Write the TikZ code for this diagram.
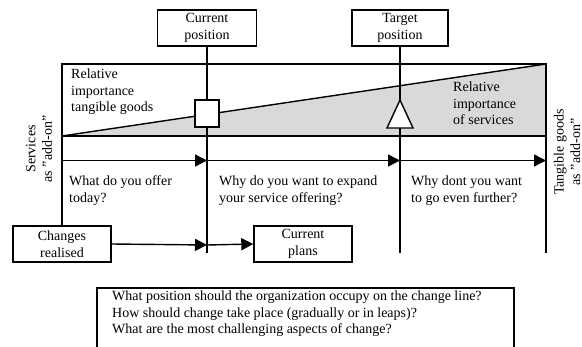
\documentclass[tikz,border=0pt]{standalone}
\usepackage{fontspec}
\setmainfont{Liberation Serif}
\usetikzlibrary{arrows.meta}
\begin{document}
\begin{tikzpicture}[x=1pt,y=-1pt,
  every node/.style={font=\fontsize{14}{16.5}\selectfont},
  ln/.style={line width=1.4pt},
  box/.style={draw,line width=1.4pt,fill=white,align=center,inner sep=0pt},
  arr/.style={line width=1.4pt,-{Triangle[length=12pt,width=12pt]}},
  txt/.style={anchor=west,align=left,inner sep=0pt}]
\useasboundingbox (0,0) rectangle (582,347);
\clip (0,0) rectangle (582,347);
% shading
\fill[gray!30] (62,136) -- (546,64) -- (546,136) -- cycle;
% frame coordinates
\coordinate (tl) at (62,64);
\coordinate (tr) at (546,64);
\coordinate (ml) at (62,136);
\coordinate (mr) at (546,136);
\coordinate (rb) at (546,253);
\coordinate (al) at (62,160.5);
\coordinate (a1) at (207,160.5);
\coordinate (a2) at (400,160.5);
\coordinate (a3) at (546,160.5);
\coordinate (cb) at (207,253);
\coordinate (tb) at (400,253);
\coordinate (cm) at (207,245);
% boxes
\node[box,minimum width=99pt,minimum height=36pt] (cur) at (207,28) {Current\\position};
\node[box,minimum width=96pt,minimum height=36pt] (tgt) at (400,28) {Target\\position};
\node[box,minimum width=98pt,minimum height=36pt] (chg) at (62,244) {Changes\\realised};
\node[box,minimum width=98pt,minimum height=36pt] (pln) at (303,244) {Current\\plans};
% frame
\draw[ln] (chg.north -| tl) -- (tl) -- (tr) -- (rb);
\draw[ln] (ml) -- (mr);
\draw[ln] (ml) -- (tr);
\draw[ln] (cur.south) -- (cb);
\draw[ln] (tgt.south) -- (tb);
% arrows
\draw[arr] (al) -- (a1);
\draw[arr] (a1) -- (a2);
\draw[arr] (a2) -- (a3);
\draw[arr] (chg.east) -- (cm);
\draw[arr] (cm) -- (pln.west);
% markers
\node[draw,line width=1.4pt,fill=white,minimum width=24pt,minimum height=27pt,inner sep=0pt] (sq) at (207,113.5) {};
\draw[ln,fill=white] (400,100) -- (413,128) -- (387,128) -- cycle;
% texts
\node[txt] (t1) at (71,92) {Relative\\importance\\tangible goods};
\node[txt] (t2) at (453,103.5) {Relative\\importance\\of services};
\node[txt] (q1) at (69,190.5) {What do you offer\\today?};
\node[txt] (q2) at (219,190.5) {Why do you want to expand\\your service offering?};
\node[txt] (q3) at (411,190.5) {Why dont you want\\to go even further?};
\node[rotate=90,align=center,inner sep=0pt] (sl) at (39,149) {Services\\as "add-on"};
\node[rotate=90,align=center,inner sep=0pt] (sr) at (567,152) {Tangible goods\\as "add-on"};
% bottom box
\node[draw,line width=1.4pt,minimum width=417pt,minimum height=120pt,inner sep=0pt] (bb) at (305.5,348) {};
\node[txt] (bt) at (112,314) {What position should the organization occupy on the change line?\\How should change take place (gradually or in leaps)?\\What are the most challenging aspects of change?};
\end{tikzpicture}
\end{document}
